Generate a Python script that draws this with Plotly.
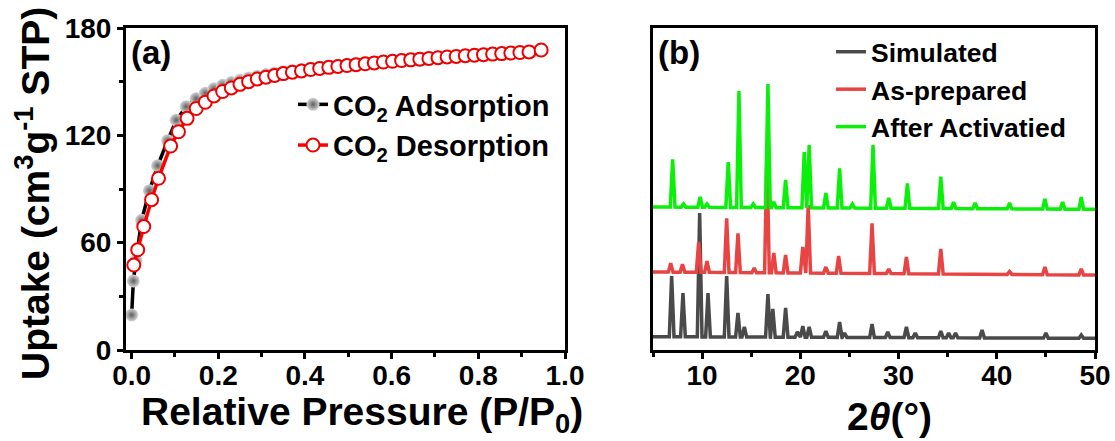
import plotly.graph_objects as go

# ---------------- Panel (a): CO2 isotherm ----------------
ads_p = [0.000, 0.004, 0.010, 0.023, 0.041, 0.060, 0.083, 0.103, 0.126, 0.149,
         0.170, 0.190, 0.210, 0.230, 0.250, 0.270, 0.290, 0.310, 0.330, 0.350,
         0.371, 0.392, 0.413, 0.434, 0.455, 0.476, 0.497, 0.518, 0.539, 0.560,
         0.581, 0.602, 0.623, 0.644, 0.665, 0.686, 0.707, 0.728, 0.749, 0.770,
         0.791, 0.812, 0.833, 0.854, 0.875, 0.896, 0.926]
ads_v = [19.6, 38.6, 50.0, 72.5, 89.0, 103.0, 117.0, 128.5, 136.0, 140.5,
         143.5, 146.0, 148.0, 149.5, 150.8, 152.0, 153.0, 154.0, 154.8, 155.5,
         156.2, 156.8, 157.4, 158.0, 158.5, 159.0, 159.5, 160.0, 160.4, 160.9,
         161.3, 161.7, 162.1, 162.5, 162.9, 163.2, 163.6, 164.0, 164.3, 164.6,
         164.9, 165.2, 165.5, 165.8, 166.1, 166.4, 166.8]

des_p = [0.005, 0.014, 0.028, 0.046, 0.062, 0.090, 0.108, 0.128, 0.149, 0.170,
         0.190, 0.210, 0.230, 0.250, 0.270, 0.290, 0.310, 0.330, 0.350, 0.371,
         0.392, 0.413, 0.434, 0.455, 0.476, 0.497, 0.518, 0.539, 0.560, 0.581,
         0.602, 0.623, 0.644, 0.665, 0.686, 0.707, 0.728, 0.749, 0.770, 0.791,
         0.812, 0.833, 0.854, 0.875, 0.896, 0.917, 0.945]
des_v = [47.5, 56.0, 69.0, 84.0, 96.0, 114.0, 122.0, 129.5, 135.0, 138.5,
         142.0, 144.5, 146.5, 148.5, 150.0, 151.5, 152.5, 153.5, 154.5, 155.3,
         156.0, 156.8, 157.4, 158.0, 158.5, 159.0, 159.5, 160.0, 160.5, 161.0,
         161.4, 161.8, 162.2, 162.6, 163.0, 163.4, 163.8, 164.1, 164.5, 164.8,
         165.1, 165.4, 165.7, 166.0, 166.3, 166.6, 167.7]

a_yticks = [0, 60, 120, 180]
a_xticks = [0.0, 0.2, 0.4, 0.6, 0.8, 1.0]

# ---------------- Panel (b): PXRD patterns ----------------
# peak positions (2theta) and peak-top heights (stacked intensity, a.u.)
sim_pos = [6.9, 8.05, 9.75, 10.6, 12.5, 13.65, 14.3, 16.7, 17.2, 18.5, 19.7,
           20.25, 20.9, 22.6, 24.0, 24.5, 27.3, 28.9, 30.8, 31.7, 34.3, 35.1,
           35.8, 38.5, 45.0, 48.6]
sim_top = [74, 57, 137, 57, 74, 37, 23, 56, 41, 42, 18,
           24, 23, 19, 28, 17, 26, 18, 23, 17, 19, 17,
           17, 20, 17, 15]
sim_base = [13.3, 11.7]          # baseline at 5 deg and at 50 deg

prep_pos = [6.8, 8.0, 9.65, 10.5, 12.5, 13.65, 15.3, 16.6, 17.3, 18.5, 20.25,
            20.8, 22.6, 23.9, 27.3, 29.0, 30.8, 34.3, 41.3, 44.9, 48.6]
prep_top = [86.7, 85.7, 108, 89, 131.7, 116.7, 82, 200, 97, 95, 103,
            145, 83, 94, 126.7, 81, 93, 101, 78.5, 83, 81]
prep_base = [78.0, 75.0]

act_pos = [7.0, 8.1, 9.8, 10.5, 12.66, 13.75, 15.2, 16.7, 17.3, 18.5, 20.4,
           20.9, 22.6, 24.0, 25.3, 27.4, 29.0, 30.9, 34.3, 35.6, 37.8, 41.3,
           44.9, 46.7, 48.6]
act_top = [190.7, 146, 153, 146, 188, 259, 146, 266, 148, 170, 198,
           205, 157, 181.7, 146, 205, 152, 166.7, 173.3, 148, 147, 147,
           151, 148, 153]
act_base = [143.0, 140.7]

b_xticks = [10, 20, 30, 40, 50]
b_range = [5, 50]


def pattern(pos, top, base, half=0.24):
    """Build a stick-like polyline: baseline -> peak top -> baseline."""
    x0, x1 = b_range
    b0, b1 = base

    def bl(x):
        return b0 + (b1 - b0) * (x - x0) / (x1 - x0)

    xs, ys = [x0], [bl(x0)]
    for p, t in sorted(zip(pos, top)):
        xs += [p - half, p, p + half]
        ys += [bl(p - half), t, bl(p + half)]
    xs.append(x1)
    ys.append(bl(x1))
    return xs, ys


FONT = "Liberation Sans, Arial, sans-serif"
W, H = 1115, 441

fig = go.Figure()

fig.add_trace(go.Scatter(
    x=ads_p, y=ads_v, mode="lines+markers", name="CO<sub>2</sub> Adsorption",
    xaxis="x", yaxis="y", legend="legend",
    line=dict(color="#000000", width=3.5),
    marker=dict(symbol="circle", size=13, color="#d6d6d6",
                gradient=dict(type="radial", color="#5e5e5e"),
                line=dict(width=0)),
))
fig.add_trace(go.Scatter(
    x=des_p, y=des_v, mode="lines+markers", name="CO<sub>2</sub> Desorption",
    xaxis="x", yaxis="y", legend="legend",
    line=dict(color="#ff0000", width=3.5),
    marker=dict(symbol="circle", size=13, color="#ffffff",
                line=dict(width=2, color="#ee0000")),
))

for name, pos, top, base, col in [
    ("Simulated", sim_pos, sim_top, sim_base, "#4a4a4a"),
    ("As-prepared", prep_pos, prep_top, prep_base, "#e94444"),
    ("After Activatied", act_pos, act_top, act_base, "#0af00a"),
]:
    xs, ys = pattern(pos, top, base)
    fig.add_trace(go.Scatter(
        x=xs, y=ys, mode="lines", name=name, xaxis="x2", yaxis="y2",
        legend="legend2", line=dict(color=col, width=3.5),
    ))

ydom = [1 - 350 / H, 1 - 28 / H]
tickfont = dict(family=FONT, size=28, color="#000", weight="bold")
common = dict(showline=True, linewidth=3, linecolor="#000", mirror=True,
              showgrid=False, zeroline=False, ticks="outside", ticklen=6,
              tickwidth=3, tickcolor="#000", tickfont=tickfont,
              automargin=False)

fig.update_layout(
    width=W, height=H,
    margin=dict(l=0, r=0, t=0, b=0, autoexpand=False),
    paper_bgcolor="white", plot_bgcolor="white",
    showlegend=True,
    xaxis=dict(domain=[126 / W, 565 / W], range=[-0.013, 1.0],
               tickvals=a_xticks, tickformat=".1f", anchor="y",
               ticklabelstandoff=-8,
               minor=dict(dtick=0.1, tick0=0, ticks="outside", ticklen=4,
                          tickwidth=3, tickcolor="#000"), **common),
    yaxis=dict(domain=ydom, range=[0, 180], tickvals=a_yticks, anchor="x",
               minor=dict(dtick=30, tick0=0, ticks="outside", ticklen=4,
                          tickwidth=3, tickcolor="#000"), **common),
    xaxis2=dict(domain=[653 / W, 1095 / W], range=b_range, tickvals=b_xticks,
                anchor="y2", ticklabelstandoff=-8,
                minor=dict(dtick=5, tick0=0, ticks="outside", ticklen=4,
                           tickwidth=3, tickcolor="#000"), **common),
    yaxis2=dict(domain=ydom, range=[0, 322], anchor="x2", showline=True,
                linewidth=3, linecolor="#000", mirror=True, showgrid=False,
                zeroline=False, ticks="", showticklabels=False,
                automargin=False),
    legend=dict(x=293 / W, y=1 - 79 / H, xanchor="left", yanchor="top",
                bgcolor="rgba(0,0,0,0)", borderwidth=0, tracegroupgap=0,
                font=dict(family=FONT, size=29, color="#000", weight="bold")),
    legend2=dict(x=831 / W, y=1 - 28 / H, xanchor="left", yanchor="top",
                 bgcolor="rgba(0,0,0,0)", borderwidth=0, tracegroupgap=0,
                 font=dict(family=FONT, size=26.5, color="#000",
                           weight="bold")),
    annotations=[
        dict(text="(a)", x=151 / W, y=1 - 53 / H, xref="paper", yref="paper",
             xanchor="center", yanchor="middle", showarrow=False,
             font=dict(family=FONT, size=33, color="#000", weight="bold")),
        dict(text="(b)", x=679 / W, y=1 - 53 / H, xref="paper", yref="paper",
             xanchor="center", yanchor="middle", showarrow=False,
             font=dict(family=FONT, size=33, color="#000", weight="bold")),
        dict(text="Relative Pressure (P/P<sub>0</sub>)", x=362 / W,
             y=1 - 414 / H, xref="paper", yref="paper", xanchor="center",
             yanchor="middle", showarrow=False,
             font=dict(family=FONT, size=39, color="#000", weight="bold")),
        dict(text="Uptake (cm<sup>3</sup>g<sup>-1</sup> STP)", x=32 / W,
             y=1 - 194 / H, xref="paper", yref="paper", xanchor="center",
             yanchor="middle", showarrow=False, textangle=-90,
             font=dict(family=FONT, size=39, color="#000", weight="bold")),
        dict(text="2<i>θ</i>(°)", x=889 / W, y=1 - 416 / H, xref="paper",
             yref="paper", xanchor="center", yanchor="middle",
             showarrow=False,
             font=dict(family=FONT, size=39, color="#000", weight="bold")),
    ],
)

fig.write_html("out.html")
